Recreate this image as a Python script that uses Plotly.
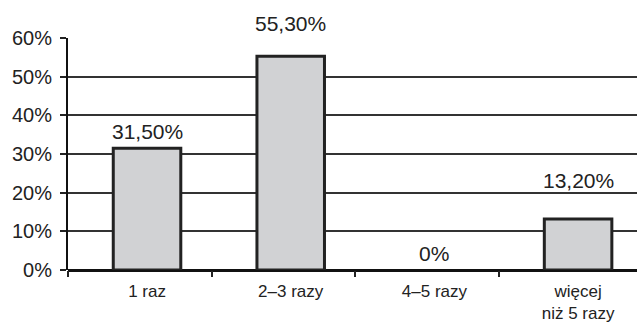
import plotly.graph_objects as go

# Survey answers: how often (categories) and share of respondents (percent)
categories = ["1 raz", "2–3 razy", "4–5 razy", "więcej<br>niż 5 razy"]
shares = [31.5, 55.3, 0.0, 13.2]
y_ticks = [0, 10, 20, 30, 40, 50, 60]


def pct_label(v):
    if v == 0:
        return "0%"
    return f"{v:.2f}%".replace(".", ",")


positions = list(range(len(categories)))

fig = go.Figure()
fig.add_trace(go.Bar(
    x=positions,
    y=shares,
    width=0.47,
    marker=dict(
        color="#d1d2d4",
        # empty bars get no outline so only the axis shows
        line=dict(color="#222222", width=[3 if v > 0 else 0 for v in shares]),
    ),
    hoverinfo="skip",
))

# value labels above the bars (extra lift on the taller label rows)
lifts = {0: 3, 1: 19, 2: 3, 3: 25}
for i, v in enumerate(shares):
    fig.add_annotation(
        x=positions[i], y=v, text=pct_label(v), showarrow=False,
        yanchor="bottom", yshift=lifts[i],
        font=dict(family="Liberation Sans, Arial, sans-serif", size=21, color="#222222"),
    )

fig.update_layout(
    width=637, height=324,
    margin=dict(l=68, r=0, t=38, b=54),
    paper_bgcolor="white", plot_bgcolor="white",
    showlegend=False,
    font=dict(family="Liberation Sans, Arial, sans-serif", color="#222222"),
)

fig.update_xaxes(
    range=[-0.55, 3.41],
    tickmode="array", tickvals=positions, ticktext=categories,
    ticks="", showgrid=False, zeroline=False,
    showline=False, automargin=False,
    tickfont=dict(size=17),
    ticklabelstandoff=9,
    minor=dict(tickmode="linear", tick0=-0.55, dtick=1, ticks="outside",
               ticklen=6, tickwidth=1.5, tickcolor="#222222", showgrid=False),
)
fig.update_yaxes(
    range=[0, 60], automargin=False,
    tickmode="array", tickvals=y_ticks, ticktext=[f"{t}%" for t in y_ticks],
    ticks="outside", ticklen=6, tickwidth=1.5, tickcolor="#222222",
    showgrid=True, gridcolor="#333333", gridwidth=1.5,
    zeroline=True, zerolinecolor="#111111", zerolinewidth=2.5,
    showline=True, linecolor="#111111", linewidth=2,
    tickfont=dict(size=20),
    ticklabelstandoff=4,
)

fig.write_html("out.html")
